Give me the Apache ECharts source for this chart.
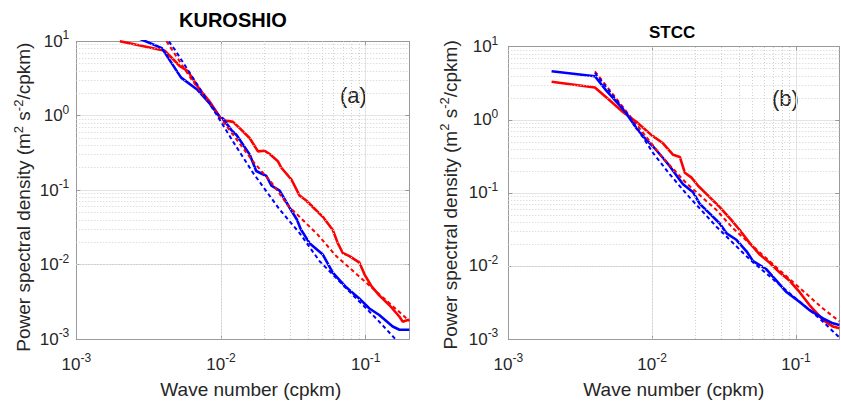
<!DOCTYPE html>
<html>
<head>
<meta charset="utf-8">
<script src="https://cdn.jsdelivr.net/npm/echarts@6/dist/echarts.min.js"></script>
<style>
html,body{margin:0;padding:0;background:#ffffff;}
#chart{width:841px;height:404px;}
</style>
</head>
<body>
<div id="chart"></div>
<script>
// ---------- data (wave number in cpkm, PSD in m^2 s^-2/cpkm) ----------
const panelTitles = ['KUROSHIO', 'STCC'];
const panelTags = ['(a)', '(b)'];
const xAxisName = 'Wave number (cpkm)';
const yAxisName = 'Power spectral density (m{s|2} s{s|-2}/cpkm)';

const minorGridX = [0.002,0.003,0.004,0.005,0.006,0.007,0.008,0.009,0.02,0.03,0.04,0.05,0.06,0.07,0.08,0.09];
const minorGridY = [0.002,0.003,0.004,0.005,0.006,0.007,0.008,0.009,0.02,0.03,0.04,0.05,0.06,0.07,0.08,0.09,
                    0.2,0.3,0.4,0.5,0.6,0.7,0.8,0.9,2,3,4,5,6,7,8,9];

// (a) KUROSHIO
const kuroRedK  = [0.002,0.0041,0.0052,0.0059,0.0071,0.0084,0.0098,0.0106,0.0121,0.0135,0.0158,0.018,0.020,0.0217,0.0247,0.0261,0.0306,0.0349,0.0388,0.0431,0.0505,0.0592,0.0641,0.0694,0.0772,0.0905,0.098,0.109,0.124,0.146,0.171,0.180,0.195,0.2];
const kuroRedP  = [10,7.45,4.62,3.97,2.27,1.52,0.963,0.868,0.827,0.675,0.498,0.332,0.338,0.306,0.245,0.200,0.140,0.0846,0.0727,0.0593,0.0438,0.0292,0.0194,0.0143,0.0130,0.0106,0.0074,0.0052,0.00385,0.00284,0.00199,0.00171,0.0018,0.00182];
const kuroBlueK = [0.002,0.0039,0.0053,0.0068,0.0084,0.0098,0.0103,0.0118,0.0128,0.0158,0.0175,0.0206,0.0223,0.0254,0.0298,0.0335,0.0355,0.0409,0.0505,0.0592,0.0733,0.0905,0.106,0.124,0.1535,0.171,0.2];
const kuroBlueP = [14,8.1,3.25,2.27,1.44,0.963,0.914,0.641,0.551,0.300,0.181,0.155,0.115,0.0985,0.058,0.040,0.030,0.0194,0.01365,0.0078,0.00495,0.00348,0.00257,0.0021,0.00147,0.00133,0.00133];
const kuroRedFitK  = [0.0042,0.00625,0.0098,0.0166,0.0223,0.029,0.0467,0.0625,0.124,0.1754,0.2];
const kuroRedFitP  = [10,3.08,0.96,0.245,0.127,0.0624,0.0251,0.0130,0.0040,0.0022,0.00175];
const kuroBlueFitK = [0.00436,0.0048,0.00953,0.0121,0.0166,0.0254,0.0349,0.048,0.0733,0.121,0.17];
const kuroBlueFitP = [10,7.7,0.963,0.45,0.172,0.055,0.0265,0.0111,0.0048,0.0018,0.00088];

// (b) STCC
const stccRedK  = [0.002,0.004,0.00495,0.00629,0.0078,0.0099,0.0119,0.014,0.01557,0.01687,0.01878,0.02086,0.0245,0.0295,0.0356,0.0406,0.0477,0.056,0.0656,0.0771,0.0904,0.106,0.1245,0.154,0.1807,0.2];
const stccRedP  = [3.32,2.76,1.92,1.27,0.934,0.617,0.477,0.332,0.31,0.1886,0.1615,0.125,0.0918,0.0638,0.0423,0.031,0.0205,0.01432,0.01104,0.0081,0.00626,0.00437,0.00289,0.00182,0.00148,0.0014];
const stccBlueK = [0.002,0.004,0.00482,0.00597,0.00664,0.0078,0.00914,0.01016,0.0119,0.01327,0.01516,0.0164,0.01927,0.02144,0.02516,0.0295,0.0329,0.0385,0.0453,0.0503,0.0623,0.0731,0.0858,0.106,0.1245,0.154,0.1807,0.2];
const stccBlueP = [4.61,3.95,2.48,1.56,1.21,0.759,0.528,0.431,0.30,0.232,0.1615,0.1313,0.1016,0.0707,0.0519,0.0381,0.0279,0.0228,0.01586,0.01164,0.009,0.0063,0.00439,0.0032,0.00248,0.00191,0.00164,0.00155];
const stccRedFitK  = [0.004,0.01162,0.01733,0.028,0.0365,0.0503,0.0904,0.154,0.2];
const stccRedFitP  = [4.61,0.316,0.135,0.0582,0.0326,0.0185,0.0066,0.00261,0.00175];
const stccBlueFitK = [0.004,0.007,0.01016,0.01327,0.01733,0.028,0.0477,0.0858,0.146,0.2];
const stccBlueFitP = [4.39,1.09,0.35,0.179,0.0964,0.0344,0.01227,0.0046,0.00191,0.00105];

// ---------- styling ----------
const FONT = '"Liberation Sans", Arial, Helvetica, sans-serif';
const TXT = '#262626';
const AXIS = '#9a9a9a';
const RED = '#ff0000';
const BLUE = '#0000ff';

const pair = (k, p) => k.map((v, i) => [v, p[i]]);

function powLabel(v) {
  const e = Math.log10(v);
  const r = Math.round(e);
  if (Math.abs(e - r) > 1e-6) return '';
  return '{b|10}{s|' + r + '}';
}
const tickRich = {
  b: {fontSize: 17, fontFamily: FONT, color: TXT, lineHeight: 24},
  s: {fontSize: 12, fontFamily: FONT, color: TXT, lineHeight: 12, verticalAlign: 'top'}
};

const grids = [
  {left: 76.3, top: 41.3, width: 333, height: 303},
  {left: 508.3, top: 46.7, width: 331, height: 297.6}
];

const xAxes = [], yAxes = [], series = [];
const xNamePad = [[0, 0, 0, 16], [0, 0, 0, 0]];
const yNamePad = [[0, 14, 0, 0], [0, 4, 0, 0]];
const yNameGap = [39, 46];
const yLabelMargin = [7, 10];

grids.forEach((g, gi) => {
  // bottom x axis
  xAxes.push({
    type: 'log', logBase: 10, min: 0.001, max: 0.2, gridIndex: gi, position: 'bottom',
    name: xAxisName, nameLocation: 'middle', nameGap: 41,
    nameTextStyle: {fontSize: 19, fontFamily: FONT, color: TXT, padding: xNamePad[gi]},
    axisLine: {show: true, lineStyle: {color: AXIS, width: 1}},
    axisTick: {show: true, inside: true, length: 4, lineStyle: {color: AXIS}},
    axisLabel: {formatter: powLabel, rich: tickRich, margin: 13, showMaxLabel: false},
    splitLine: {show: true, lineStyle: {color: '#e4e4e4', width: 1}},
    minorTick: {show: false}
  });
  // top mirror x axis
  xAxes.push({
    type: 'log', logBase: 10, min: 0.001, max: 0.2, gridIndex: gi, position: 'top',
    axisLine: {show: true, lineStyle: {color: AXIS, width: 1}},
    axisTick: {show: true, inside: true, length: 4, lineStyle: {color: AXIS}},
    axisLabel: {show: false}, splitLine: {show: false}
  });
  // left y axis
  yAxes.push({
    type: 'log', logBase: 10, min: 0.001, max: 10, gridIndex: gi, position: 'left',
    name: yAxisName, nameLocation: 'middle', nameGap: yNameGap[gi], nameRotate: 90,
    nameTextStyle: {fontSize: 19, fontFamily: FONT, color: TXT, lineHeight: 24, padding: yNamePad[gi],
      rich: {s: {fontSize: 13, fontFamily: FONT, color: TXT, lineHeight: 12, verticalAlign: 'top'}}},
    axisLine: {show: true, lineStyle: {color: AXIS, width: 1}},
    axisTick: {show: true, inside: true, length: 4, lineStyle: {color: AXIS}},
    axisLabel: {formatter: powLabel, rich: tickRich, margin: yLabelMargin[gi]},
    splitLine: {show: true, lineStyle: {color: '#e4e4e4', width: 1}}
  });
  // right mirror y axis
  yAxes.push({
    type: 'log', logBase: 10, min: 0.001, max: 10, gridIndex: gi, position: 'right',
    axisLine: {show: true, lineStyle: {color: AXIS, width: 1}},
    axisTick: {show: true, inside: true, length: 4, lineStyle: {color: AXIS}},
    axisLabel: {show: false}, splitLine: {show: false}
  });
});

function addPanel(gi, redK, redP, blueK, blueP, rfK, rfP, bfK, bfP) {
  const xi = gi * 2, yi = gi * 2;
  // minor grid (dotted) drawn through the axes' own scales
  series.push({
    type: 'line', xAxisIndex: xi, yAxisIndex: yi, data: [[0.01, 1]], symbol: 'none',
    lineStyle: {opacity: 0}, silent: true, z: 1,
    markLine: {
      silent: true, symbol: ['none', 'none'], label: {show: false}, animation: false,
      lineStyle: {type: [1, 2], color: '#d0d0d0', width: 1},
      data: minorGridX.map(v => ({xAxis: v})).concat(minorGridY.map(v => ({yAxis: v})))
    }
  });
  const common = {type: 'line', xAxisIndex: xi, yAxisIndex: yi, symbol: 'none', clip: true, animation: false, smooth: false};
  series.push(Object.assign({}, common, {z: 3, data: pair(redK, redP), lineStyle: {color: RED, width: 2.6}}));
  series.push(Object.assign({}, common, {z: 4, data: pair(blueK, blueP), lineStyle: {color: BLUE, width: 2.6}}));
  series.push(Object.assign({}, common, {z: 5, data: pair(rfK, rfP), lineStyle: {color: RED, width: 2, type: [4, 3]}}));
  series.push(Object.assign({}, common, {z: 6, data: pair(bfK, bfP), lineStyle: {color: BLUE, width: 2, type: [4, 3]}}));
}
addPanel(0, kuroRedK, kuroRedP, kuroBlueK, kuroBlueP, kuroRedFitK, kuroRedFitP, kuroBlueFitK, kuroBlueFitP);
addPanel(1, stccRedK, stccRedP, stccBlueK, stccBlueP, stccRedFitK, stccRedFitP, stccBlueFitK, stccBlueFitP);

const chart = echarts.init(document.getElementById('chart'), null, {renderer: 'svg'});
chart.setOption({
  backgroundColor: '#ffffff',
  animation: false,
  grid: grids,
  xAxis: xAxes,
  yAxis: yAxes,
  series: series,
  graphic: [
    {type: 'text', left: 235 - 56, top: 10, style: {text: panelTitles[0], font: 'bold 20px ' + FONT, fill: '#000'}},
    {type: 'text', left: 674 - 25, top: 24, style: {text: panelTitles[1], font: 'bold 17px ' + FONT, fill: '#000'}},
    {type: 'text', left: 340, top: 84, style: {text: panelTags[0], font: '22px ' + FONT, fill: TXT}},
    {type: 'text', left: 772, top: 87, style: {text: panelTags[1], font: '22px ' + FONT, fill: TXT}}
  ]
});
</script>
</body>
</html>
